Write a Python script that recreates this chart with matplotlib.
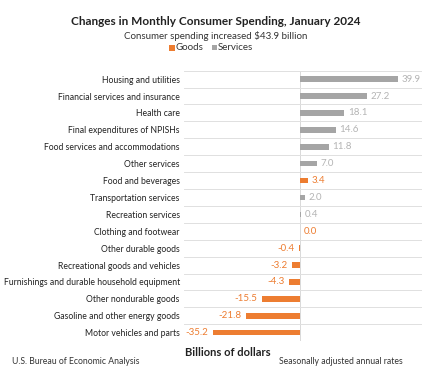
import matplotlib
matplotlib.use('Agg')
from matplotlib import pyplot as plt
from matplotlib.patches import Rectangle
import numpy as np

# chart data, top to bottom
categories = ['Housing and utilities', 'Financial services and insurance', 'Health care',
              'Final expenditures of NPISHs', 'Food services and accommodations', 'Other services',
              'Food and beverages', 'Transportation services', 'Recreation services',
              'Clothing and footwear', 'Other durable goods', 'Recreational goods and vehicles',
              'Furnishings and durable household equipment', 'Other nondurable goods',
              'Gasoline and other energy goods', 'Motor vehicles and parts']
values = [39.9, 27.2, 18.1, 14.6, 11.8, 7.0, 3.4, 2.0, 0.4, 0.0, -0.4, -3.2, -4.3, -15.5, -21.8, -35.2]
kinds = ['S', 'S', 'S', 'S', 'S', 'S', 'G', 'S', 'S', 'G', 'G', 'G', 'G', 'G', 'G', 'G']

orange = '#ED7D31'
gray = '#A5A5A5'
plt.rcParams['font.family'] = ['Lato', 'DejaVu Sans']

fig = plt.figure(figsize=(4.32, 3.68), dpi=100)
ax = fig.add_axes([0.426, 0.073, 0.551, 0.735])

y = np.arange(len(categories))
colors = [orange if k == 'G' else gray for k in kinds]
ax.barh(y, values, height=0.33, color=colors, zorder=3)

# value labels
for yi, v, c in zip(y, values, colors):
    lab_c = orange if c == orange else '#B4B4B4'
    if v >= 0:
        ax.text(v + 1.4, yi, f'{v:.1f}', va='center', ha='left', fontsize=7, color=lab_c)
    else:
        ax.text(v - 1.8, yi, f'{v:.1f}', va='center', ha='right', fontsize=7, color=lab_c)

ax.set_xlim(-47, 49.6)
ax.set_ylim(len(categories) - 0.5, -0.5)
ax.set_yticks(y)
ax.set_yticklabels(categories, fontsize=6.2, color='#222222')
ax.tick_params(axis='y', length=0, pad=3)
ax.set_xticks([])
ax.set_yticks(np.arange(-0.5, len(categories)), minor=True)
ax.tick_params(axis='y', which='minor', length=0)
ax.grid(axis='y', which='minor', color='#E0E0E0', linewidth=0.7, zorder=0)
ax.axvline(0, color='#D9D9D9', linewidth=0.7, zorder=1)
for s in ax.spines.values():
    s.set_visible(False)

# title and legend
fig.text(0.5, 0.942, 'Changes in Monthly Consumer Spending, January 2024', ha='center',
         va='center', fontsize=8.5, fontweight='bold', color='#222222')
fig.text(0.5, 0.902, 'Consumer spending increased $43.9 billion', ha='center', va='center',
         fontsize=7, color='#333333')
fig.patches.append(Rectangle((0.392, 0.862), 0.013, 0.015, transform=fig.transFigure,
                             facecolor=orange, edgecolor='none'))
fig.text(0.407, 0.871, 'Goods', ha='left', va='center', fontsize=7, color='#333333')
fig.patches.append(Rectangle((0.490, 0.864), 0.013, 0.015, transform=fig.transFigure,
                             facecolor=gray, edgecolor='none'))
fig.text(0.505, 0.871, 'Services', ha='left', va='center', fontsize=7, color='#333333')

# footer
fig.text(0.428, 0.043, 'Billions of dollars', ha='left', va='center', fontsize=8,
         fontweight='bold', color='#222222')
fig.text(0.028, 0.018, 'U.S. Bureau of Economic Analysis', ha='left', va='center',
         fontsize=6.2, color='#333333')
fig.text(0.645, 0.018, 'Seasonally adjusted annual rates', ha='left', va='center',
         fontsize=6.2, color='#333333')

fig.savefig('out.png', dpi=100)
